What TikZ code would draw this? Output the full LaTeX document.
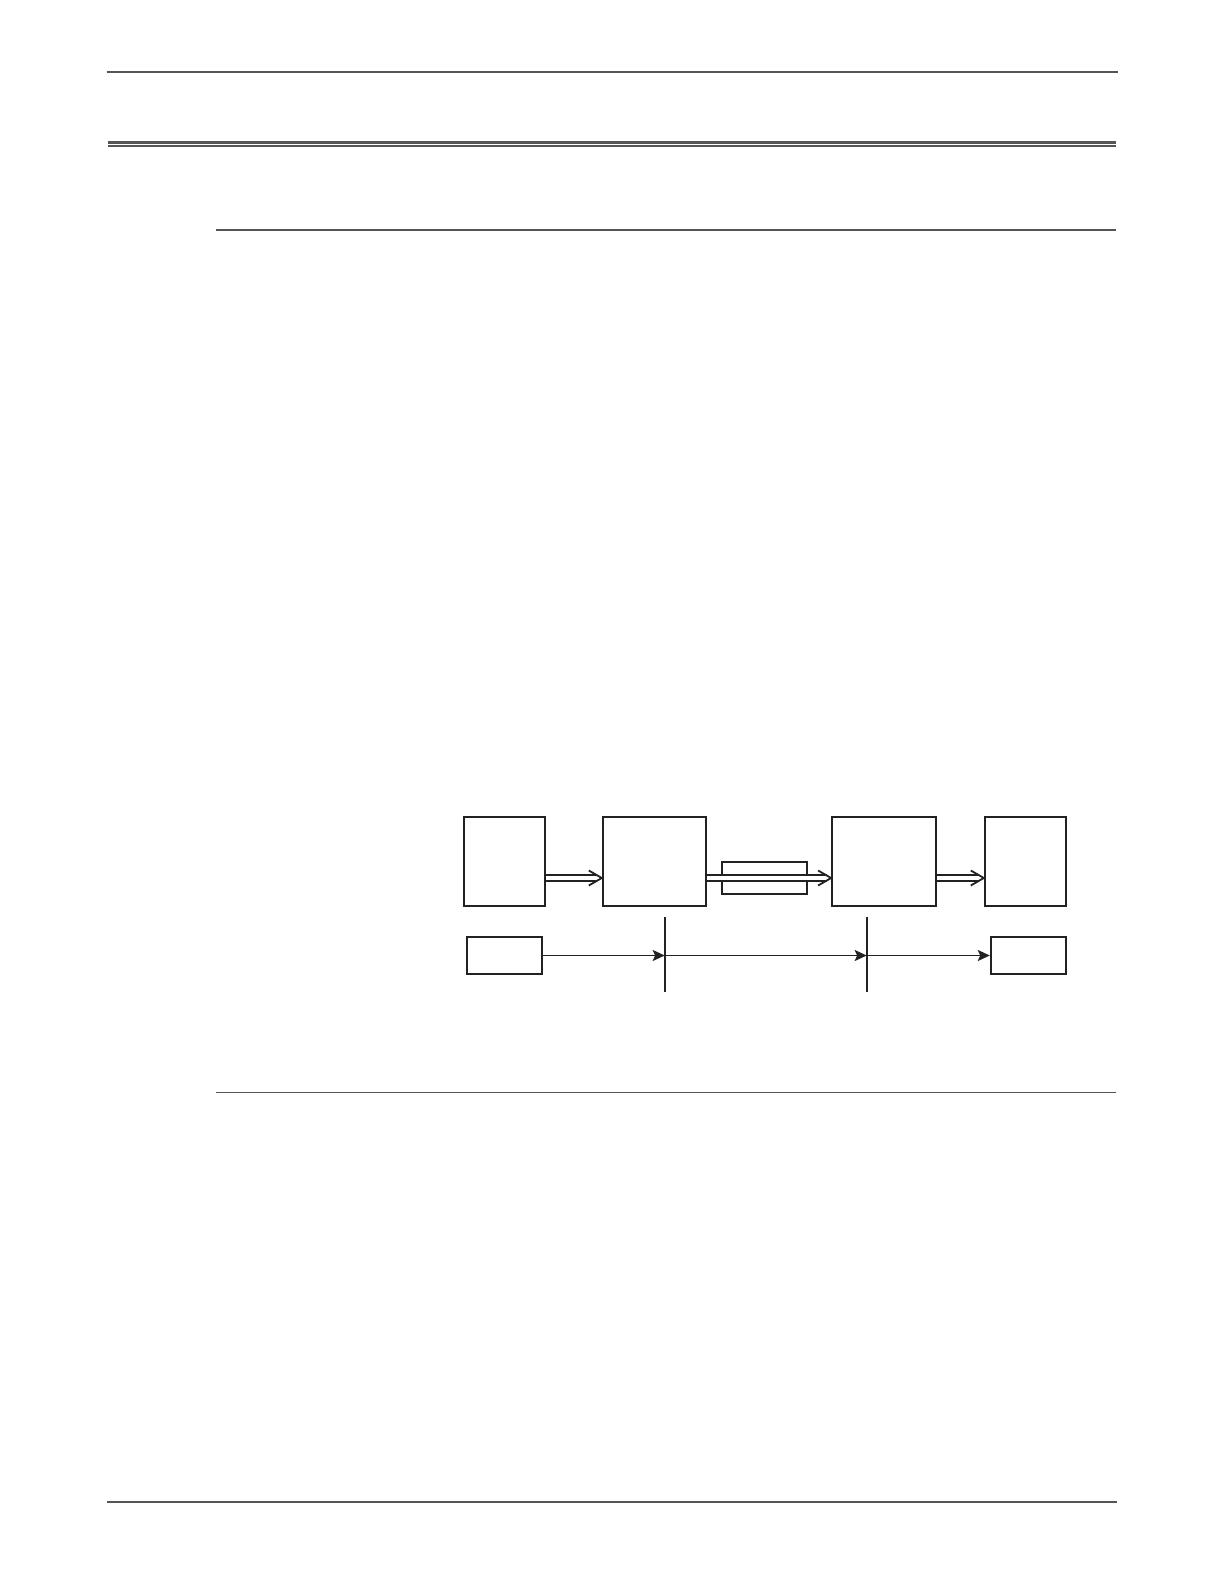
\documentclass[tikz,border=0pt]{standalone}
\usetikzlibrary{arrows.meta,calc}
\definecolor{rulegray}{HTML}{555555}
\definecolor{ink}{HTML}{222222}
\tikzset{
  rulethick/.style={draw=rulegray,line width=1pt},
  rulethin/.style={draw=rulegray,line width=0.65pt},
  blockbox/.style={draw=ink,line width=0.9pt,rectangle,inner sep=0pt,minimum height=44.65pt},
  smallbox/.style={draw=ink,line width=0.9pt,rectangle,inner sep=0pt},
  conn/.style={draw=ink,line width=0.9pt},
  flowarrow/.style={conn,-{Stealth[length=6pt,width=5.5pt,inset=1.2pt]}},
  dblline/.style={conn,double=white,double distance=1.8pt,shorten >=2.2pt},
  chevron/.style={conn,line join=miter},
}
\begin{document}
\begin{tikzpicture}[x=0.5pt,y=-0.5pt]
\fill[white] (0,0) rectangle (1224,1584);
\useasboundingbox (0,0) rectangle (1224,1584);
% page rules
\draw[rulethick] (106.7,71.7) -- (1118,71.7);
\draw[rulegray,line width=1.35pt] (107.7,142.3) -- (1116,142.3);
\draw[rulegray,line width=0.85pt] (107.7,145.7) -- (1116,145.7);
\draw[rulethick] (216,229.7) -- (1116,229.7);
\draw[rulethin] (216,1092.3) -- (1116,1092.3);
\draw[rulethick] (106.7,1502) -- (1117,1502);
% upper blocks
\node[blockbox,minimum width=40.8pt] (A) at (504.5,861.35) {};
\node[blockbox,minimum width=51.65pt] (B) at (654.35,861.35) {};
\node[blockbox,minimum width=52pt] (C) at (884,861.35) {};
\node[blockbox,minimum width=40.65pt] (D) at (1025.35,861.35) {};
\node[smallbox,minimum width=42.8pt,minimum height=16.15pt] (S) at (764.5,877.85) {};
% double arrows
\coordinate (a1) at (A.east |- 0,878);
\coordinate (b1) at (B.west |- 0,878);
\coordinate (b2) at (B.east |- 0,878);
\coordinate (c1) at (C.west |- 0,878);
\coordinate (c2) at (C.east |- 0,878);
\coordinate (d1) at (D.west |- 0,878);
\draw[dblline] (a1) -- (b1);
\draw[chevron] ($(b1)+(-13,-7.5)$) -- (b1) -- ($(b1)+(-13,7.5)$);
\draw[dblline] (b2) -- (c1);
\draw[chevron] ($(c1)+(-13,-7.5)$) -- (c1) -- ($(c1)+(-13,7.5)$);
\draw[dblline] (c2) -- (d1);
\draw[chevron] ($(d1)+(-13,-7.5)$) -- (d1) -- ($(d1)+(-13,7.5)$);
% lower row
\node[smallbox,minimum width=37.65pt,minimum height=18.2pt] (E) at (504.35,955.5) {};
\node[smallbox,minimum width=37.65pt,minimum height=18.2pt] (F) at (1028.35,955.5) {};
\coordinate (v1t) at (664.7,916.7);
\coordinate (v1b) at (664.7,992);
\coordinate (v2t) at (866.7,916.7);
\coordinate (v2b) at (866.7,992);
\draw[conn] (v1t) -- (v1b);
\draw[conn] (v2t) -- (v2b);
\coordinate (m1) at (664.7,955.5);
\coordinate (m2) at (866.7,955.5);
\draw[flowarrow] (E.east) -- (m1);
\draw[flowarrow] (m1) -- (m2);
\draw[flowarrow] (m2) -- (F.west);
\end{tikzpicture}
\end{document}
